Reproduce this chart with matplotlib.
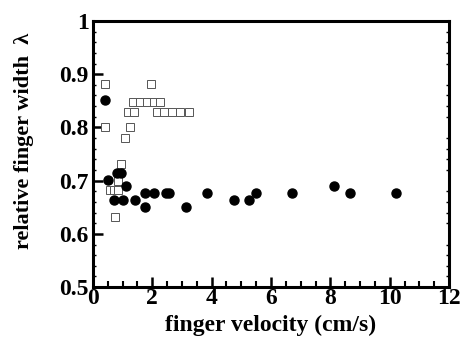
import numpy as np
import matplotlib
matplotlib.use('Agg')
import matplotlib.pyplot as plt
from matplotlib.ticker import MultipleLocator

# filled circles
vel_circ = [0.40, 0.51, 0.81, 0.95, 0.70, 1.00, 1.11, 1.40, 1.74, 1.76, 2.04,
            2.46, 2.57, 3.13, 3.83, 4.75, 5.25, 5.49, 6.71, 8.11, 8.66, 10.23]
lam_circ = [0.851, 0.701, 0.715, 0.715, 0.664, 0.664, 0.690, 0.664, 0.676, 0.651, 0.676,
            0.676, 0.676, 0.651, 0.676, 0.664, 0.664, 0.676, 0.676, 0.689, 0.676, 0.676]

# open squares
vel_sq = [0.39, 1.95, 1.35, 1.60, 1.82, 2.04, 2.27, 1.18, 1.37, 2.16, 2.38, 2.66,
          2.94, 3.25, 0.42, 1.24, 1.09, 0.95, 0.84, 0.58, 0.72, 0.86, 0.73]
lam_sq = [0.881, 0.881, 0.848, 0.848, 0.848, 0.848, 0.848, 0.828, 0.828, 0.828, 0.828, 0.828,
          0.828, 0.828, 0.800, 0.800, 0.781, 0.731, 0.700, 0.682, 0.682, 0.682, 0.632]

plt.rcParams['font.family'] = ['Liberation Serif', 'DejaVu Serif']
plt.rcParams['font.weight'] = 'bold'

fig = plt.figure(figsize=(4.61, 3.43), dpi=100)
ax = fig.add_axes([0.2017, 0.163, 0.7723, 0.776])

ax.plot(vel_sq, lam_sq, 's', mfc='white', mec='#555555', mew=0.7, ms=6, ls='none')
ax.plot(vel_circ, lam_circ, 'o', color='black', ms=6.5, ls='none')

ax.set_xlim(0, 12)
ax.set_ylim(0.5, 1.0)
ax.xaxis.set_major_locator(MultipleLocator(2))
ax.xaxis.set_minor_locator(MultipleLocator(0.5))
ax.yaxis.set_minor_locator(MultipleLocator(0.02))
ax.set_yticks([0.5, 0.6, 0.7, 0.8, 0.9, 1.0])
ax.set_yticklabels(['0.5', '0.6', '0.7', '0.8', '0.9', '1'])

for s in ax.spines.values():
    s.set_linewidth(2.2)

ax.tick_params(which='major', direction='in', length=7, width=1.8, labelsize=17, pad=1)
ax.tick_params(axis='y', which='major', pad=3)
ax.tick_params(which='minor', direction='in', length=4, width=1.5)
ax.tick_params(axis='y', which='major', right=False)
ax.tick_params(axis='y', which='minor', right=True, length=2, width=1)
for lab in ax.get_xticklabels() + ax.get_yticklabels():
    lab.set_fontweight('bold')

ax.set_xlabel('finger velocity (cm/s)', fontsize=17, fontweight='bold', labelpad=4)
ax.set_ylabel('relative finger width  λ', fontsize=16, fontweight='bold')
ax.yaxis.set_label_coords(-0.165, 0.55)

fig.savefig('out.png', dpi=100)
